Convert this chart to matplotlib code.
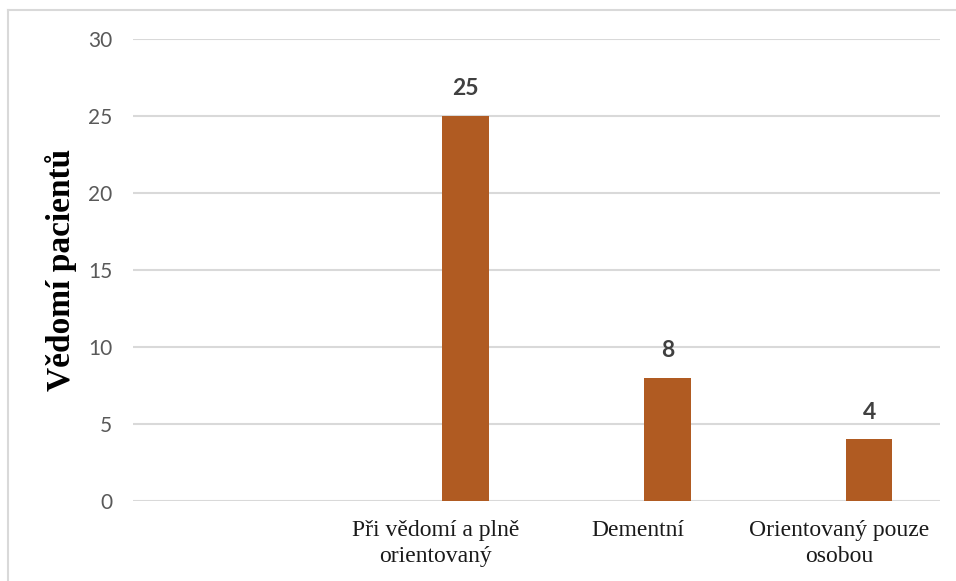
import matplotlib
matplotlib.use("Agg")
import matplotlib.pyplot as plt
from matplotlib.lines import Line2D

# patient consciousness counts
CATEGORIES = ["Při vědomí a plně\norientovaný", "Dementní", "Orientovaný pouze\nosobou"]
COUNTS     = [25, 8, 4]
Y_TICKS    = [0, 5, 10, 15, 20, 25, 30]
Y_LABEL    = "Vědomí pacientů"

BAR_COLOR  = "#B05B22"
GRID_COLOR = "#D9D9D9"
TICK_COLOR = "#595959"
VALUE_COLOR = "#404040"

W, H, DPI = 956, 581, 100
fig = plt.figure(figsize=(W / DPI, H / DPI), dpi=DPI)
ax = fig.add_axes([133 / W, (H - 501) / H, (940 - 133) / W, (501 - 39) / H])

x = range(1, len(CATEGORIES) + 1)
offset, width = 0.149, 0.23
bars = ax.bar([i + offset for i in x], COUNTS, width, color=BAR_COLOR, zorder=3)
for b, v in zip(bars, COUNTS):
    ax.annotate(f"{v}", (b.get_x() + b.get_width() / 2, v), xytext=(0, 12),
                textcoords="offset points", ha="center", va="bottom",
                fontsize=16.5, fontweight="bold", family="Lato", color=VALUE_COLOR)

ax.set_xlim(-0.5, len(CATEGORIES) + 0.5)
ax.set_ylim(0, 30)
ax.set_yticks(Y_TICKS)
ax.set_xticks(list(x))
ax.set_xticklabels(CATEGORIES, family="Liberation Serif", fontsize=17,
                   color="#1a1a1a", linespacing=1.3)
for lab in ax.get_yticklabels():
    lab.set_family("Lato"); lab.set_fontsize(15); lab.set_color(TICK_COLOR)
ax.tick_params(axis="both", length=0)
ax.tick_params(axis="y", pad=15)
ax.tick_params(axis="x", pad=14)
ax.yaxis.grid(True, color=GRID_COLOR, lw=1.5, zorder=0)
for s in ax.spines.values():
    s.set_visible(False)

ax.set_ylabel(Y_LABEL, family="Liberation Serif", fontweight="bold",
              fontsize=24, labelpad=8)

# chart frame: only left and top edges fall inside the canvas
fig.add_artist(Line2D([8 / W, 8 / W], [0, (H - 10) / H], color=GRID_COLOR, lw=1.5,
                      transform=fig.transFigure))
fig.add_artist(Line2D([8 / W, 1], [(H - 10) / H, (H - 10) / H], color=GRID_COLOR,
                      lw=1.5, transform=fig.transFigure))

fig.savefig("out.png", dpi=DPI)
